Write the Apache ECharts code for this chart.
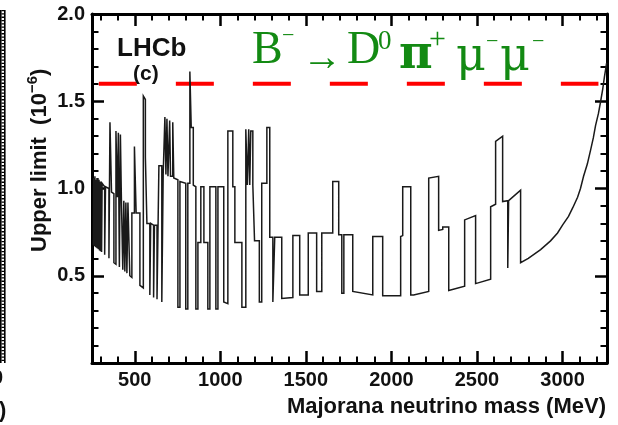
<!DOCTYPE html>
<html>
<head>
<meta charset="utf-8">
<script src="https://cdn.jsdelivr.net/npm/echarts@6/dist/echarts.min.js"></script>
<style>
  html, body { margin: 0; padding: 0; background: #ffffff; }
  #chart { width: 618px; height: 425px; }
</style>
</head>
<body>
<div id="chart"></div>
<script>
// Upper limit on B- -> D0 pi+ mu- mu- versus Majorana neutrino mass.
// Vertices of the step-like limit curve (mass in MeV, limit in units of 1e-6).
const massMeV = [
  258, 260, 260, 264, 264, 267, 267, 270, 270, 273, 273, 276, 276, 279, 279, 282, 282, 285, 285, 288,
  288, 291, 291, 294, 294, 297, 297, 300, 300, 303, 303, 306, 306, 309, 309, 314,
  324, 324, 329, 329, 349, 349, 355, 355, 364, 364, 378, 378, 390, 390, 398, 398, 404, 404, 410, 410,
  416, 416, 422, 422, 430, 430, 436, 436, 442, 442, 448, 448, 454, 454, 460, 460, 471, 471, 483, 483,
  498, 498, 508, 508, 530, 530, 550, 550, 556, 556, 562, 562, 571, 571, 588, 588, 593, 593, 610, 610,
  615, 615, 630, 630, 641, 641, 658, 658, 666, 666, 676, 676, 682, 682, 688, 688, 694, 694, 704, 704,
  709, 709, 722, 722, 728, 728, 752, 752, 764, 764, 798, 798, 810, 810, 822, 822, 830, 830, 842, 842,
  857, 857, 869, 869, 886, 886, 904, 904, 927, 927, 939, 939, 974, 974, 986, 986, 1020, 1020, 1044, 1044,
  1073, 1073, 1085, 1085, 1126, 1126, 1149, 1149, 1158, 1158, 1166, 1166, 1172, 1172, 1178, 1178, 1190, 1190, 1200, 1200,
  1228, 1228, 1242, 1242, 1272, 1272, 1289, 1289, 1307, 1307, 1318, 1318, 1359, 1359, 1424, 1424, 1464, 1464, 1514, 1514,
  1563, 1563, 1593, 1593, 1657, 1657, 1692, 1692, 1710, 1710, 1722, 1722, 1774, 1774, 1891, 1891, 1949, 1949, 2054, 2054,
  2066, 2066, 2113, 2113, 2130, 2218, 2218, 2276, 2276, 2300, 2300, 2335, 2335, 2428, 2428, 2492, 2492, 2580, 2580, 2609,
  2609, 2650, 2650, 2680, 2680, 2685, 2685, 2755, 2755, 2800, 2872, 2930, 2971, 3000, 3035, 3060, 3088, 3105, 3123, 3145,
  3164, 3180, 3193, 3210, 3223, 3235, 3245, 3258
];
const upperLimit = [
  0.675, 0.673, 1.06, 1.06, 0.67, 0.668, 1.07, 1.06, 0.665, 0.663, 1.05, 1.05, 0.661, 0.66, 1.06, 1.06, 0.656, 0.654, 1.06, 1.05,
  0.652, 0.65, 1.05, 1.05, 0.645, 0.643, 1.04, 1.04, 0.641, 0.64, 1.04, 1.04, 0.636, 0.633, 1.03, 1.02,
  1.01, 0.62, 0.615, 1.01, 1.00, 0.60, 0.595, 1.38, 1.37, 0.98, 0.97, 0.575, 0.566, 1.33, 1.33, 0.95, 0.95, 1.32, 1.32, 0.55,
  0.545, 1.31, 1.31, 0.93, 0.93, 0.535, 0.53, 0.93, 0.93, 0.525, 0.52, 0.92, 0.92, 0.515, 0.51, 0.92, 0.91, 0.50, 0.49, 0.86,
  0.86, 1.24, 1.23, 0.86, 0.86, 0.445, 0.43, 1.53, 1.54, 1.52, 1.51, 1.18, 1.18, 0.80, 0.80, 0.39, 0.387, 0.80, 0.79, 0.375,
  0.372, 0.79, 0.79, 0.365, 0.36, 1.13, 1.13, 0.35, 0.345, 1.08, 1.08, 1.41, 1.41, 1.08, 1.08, 1.40, 1.40, 1.07, 1.07, 1.39,
  1.39, 1.07, 1.07, 1.38, 1.38, 1.06, 1.05, 0.32, 0.32, 1.04, 1.03, 0.31, 0.31, 1.03, 1.03, 1.67, 1.66, 1.35, 1.35, 1.02,
  1.01, 0.31, 0.31, 0.69, 0.69, 1.01, 1.01, 0.69, 0.69, 0.31, 0.31, 1.01, 1.01, 0.31, 0.31, 1.01, 1.01, 0.35, 0.34, 1.33,
  1.33, 1.01, 1.01, 0.69, 0.69, 0.32, 0.32, 1.34, 1.34, 1.02, 1.02, 1.34, 1.34, 1.02, 1.02, 1.33, 1.33, 1.02, 1.02, 0.70,
  0.70, 0.35, 0.35, 1.03, 1.03, 1.35, 1.35, 0.72, 0.72, 0.35, 0.35, 0.72, 0.72, 0.37, 0.375, 0.73, 0.73, 0.39, 0.39, 0.745,
  0.745, 0.41, 0.41, 0.745, 0.745, 1.04, 1.04, 0.735, 0.735, 0.40, 0.40, 0.735, 0.735, 0.41, 0.39, 0.725, 0.725, 0.385, 0.385, 0.725,
  0.73, 1.01, 1.01, 0.39, 0.39, 0.41, 1.06, 1.07, 0.76, 0.765, 0.78, 0.78, 0.415, 0.44, 0.82, 0.845, 0.455, 0.48, 0.895, 0.91,
  1.27, 1.30, 0.925, 0.93, 0.545, 0.545, 0.93, 0.99, 0.575, 0.60, 0.65, 0.70, 0.745, 0.79, 0.84, 0.89, 0.95, 1.00, 1.07, 1.14,
  1.22, 1.29, 1.36, 1.43, 1.50, 1.57, 1.64, 1.72
];

// Horizontal reference level and the mass span it is drawn across.
const referenceLevel = 1.6;
const referenceSpan = [290, 3210];

// Axis ranges and tick values.
const xRange = [250, 3260];
const xMajorTicks = [500, 1000, 1500, 2000, 2500, 3000];
const yRange = [0, 2];
const yStep = 0.5;

const xMinorTicks = [];
for (let m = 300; m < xRange[1]; m += 100) {
  if (m % 500 !== 0) xMinorTicks.push(m);
}

const SANS = 'Liberation Sans, Arial, Helvetica, sans-serif';
const SERIF = 'Liberation Serif, Times New Roman, DejaVu Serif, serif';
const INK = '#111111';
const GREEN = '#138a13';

const frameLine = { show: true, lineStyle: { color: '#000', width: 3 } };

function xAxisDef(position, major, withLabels) {
  return {
    type: 'value', position: position, min: xRange[0], max: xRange[1],
    axisLine: major ? frameLine : { show: false },
    axisTick: {
      show: true, inside: true, length: major ? 12 : 6.5,
      customValues: major ? xMajorTicks : xMinorTicks,
      lineStyle: { color: '#000', width: major ? 2.5 : 2 }
    },
    axisLabel: withLabels ? {
      show: true, customValues: xMajorTicks, margin: 7,
      fontFamily: SANS, fontWeight: 'bold', fontSize: 20, color: INK,
      formatter: v => String(v)
    } : { show: false },
    splitLine: { show: false }
  };
}

function yAxisDef(position, withLabels) {
  return {
    type: 'value', position: position, min: yRange[0], max: yRange[1], interval: yStep,
    axisLine: frameLine,
    axisTick: { show: true, inside: true, length: 12, lineStyle: { color: '#000', width: 2.5 } },
    minorTick: { show: true, splitNumber: 5, length: 6.5, lineStyle: { color: '#000', width: 2 } },
    axisLabel: withLabels ? {
      show: true, margin: 7, fontFamily: SANS, fontWeight: 'bold', fontSize: 20, color: INK,
      formatter: v => (v === 0 ? '' : v.toFixed(1))
    } : { show: false },
    splitLine: { show: false }
  };
}

function txt(str, x, y, size, opts) {
  return {
    type: 'text', x: x, y: y, z: 100,
    style: Object.assign({
      text: str, fontSize: size, fontFamily: SANS, fontWeight: 'bold', fill: INK,
      align: 'left', verticalAlign: 'middle'
    }, opts || {})
  };
}

function greek(str, x, y, size, opts) {
  return txt(str, x, y, size, Object.assign({ fontFamily: SERIF, fontWeight: 'normal', fill: GREEN }, opts || {}));
}

const chart = echarts.init(document.getElementById('chart'), null, { renderer: 'canvas' });

chart.setOption({
  animation: false,
  backgroundColor: '#ffffff',
  grid: { left: 92, right: 11, top: 14, bottom: 62, containLabel: false },
  xAxis: [
    xAxisDef('bottom', true, true),
    xAxisDef('bottom', false, false),
    xAxisDef('top', true, false),
    xAxisDef('top', false, false)
  ],
  yAxis: [
    yAxisDef('left', true),
    yAxisDef('right', false)
  ],
  series: [
    {
      name: 'reference', type: 'line', xAxisIndex: 0, yAxisIndex: 0,
      data: referenceSpan.map(m => [m, referenceLevel]),
      showSymbol: false, silent: true,
      lineStyle: { color: '#ff0000', width: 4, type: [38, 39], cap: 'butt' },
      z: 2
    },
    {
      name: 'upper limit', type: 'line', xAxisIndex: 0, yAxisIndex: 0,
      data: massMeV.map((m, i) => [m, upperLimit[i]]),
      showSymbol: false, silent: true,
      lineStyle: { color: '#1a1a1a', width: 1.5, join: 'miter' },
      z: 3
    }
  ],
  graphic: [
    // neighbouring panel edge on the far left
    { type: 'line', shape: { x1: 0.8, y1: 10, x2: 0.8, y2: 363 }, style: { stroke: '#000', lineWidth: 1.6 } },
    { type: 'line', shape: { x1: 4.8, y1: 10, x2: 4.8, y2: 363 }, style: { stroke: '#000', lineWidth: 1.6 } },
    { type: 'line', shape: { x1: 2.8, y1: 10, x2: 2.8, y2: 363 }, style: { stroke: '#000', lineWidth: 2.6, lineDash: [1.3, 2] } },
    txt('0', 3, 378, 20, { align: 'right' }),
    txt(')', -1, 411, 22),

    // experiment tag
    txt('LHCb', 117, 49, 26),
    txt('(c)', 133, 74, 21),

    // decay channel
    greek('B', 252, 51, 46),
    greek('\u2212', 282, 36, 22),
    greek('\u2192', 302, 59, 40),
    greek('D', 347, 51, 46),
    greek('0', 378, 42, 27),
    greek('\u03c0', 399, 56, 46, { fontFamily: 'DejaVu Serif, serif', fontWeight: 'bold' }),
    greek('+', 429, 40, 30),
    greek('\u03bc', 456, 58, 46, { fontFamily: 'DejaVu Serif, serif' }),
    greek('\u2212', 486, 42, 22),
    greek('\u03bc', 500, 58, 46, { fontFamily: 'DejaVu Serif, serif' }),
    greek('\u2212', 532, 42, 22),

    // axis titles
    txt('Majorana neutrino mass (MeV)', 606, 407, 22, { align: 'right' }),
    {
      type: 'text', x: 40, y: 252, rotation: Math.PI / 2, z: 100,
      style: {
        text: '{m|Upper limit  (10}{s|\u22126}{m|)}',
        align: 'left', verticalAlign: 'middle',
        rich: {
          m: { fontSize: 22, fontFamily: SANS, fontWeight: 'bold', fill: INK, lineHeight: 30 },
          s: { fontSize: 15, fontFamily: SANS, fontWeight: 'bold', fill: INK, verticalAlign: 'top' }
        }
      }
    }
  ]
});
</script>
</body>
</html>
